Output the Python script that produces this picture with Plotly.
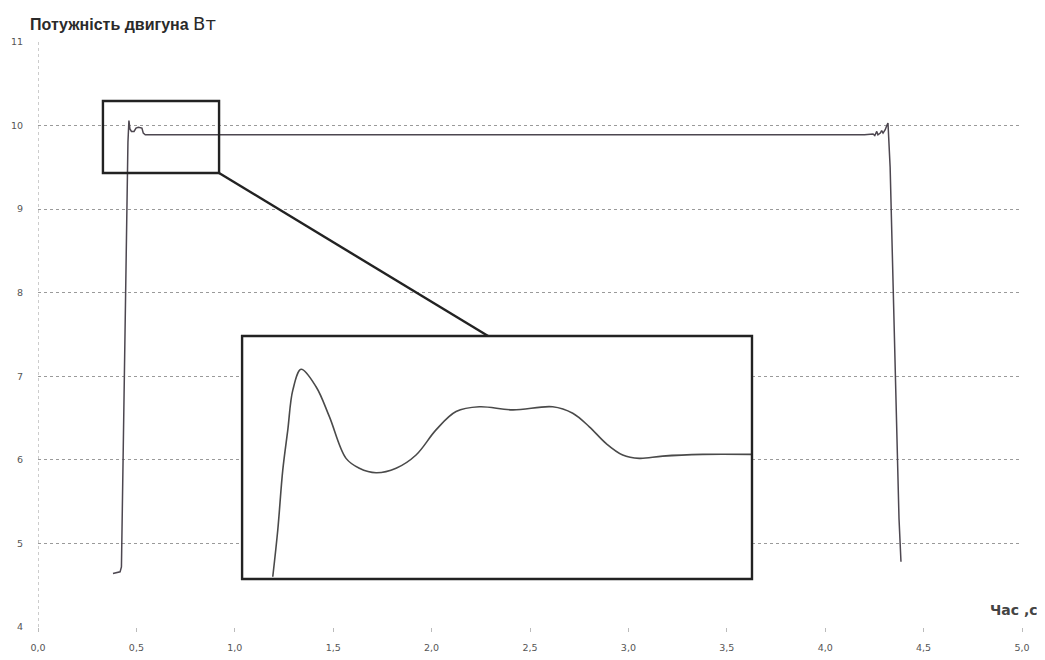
import plotly.graph_objects as go

# ---- data: main power curve (time s, power W) ----
time_s = [0.381, 0.417, 0.424, 0.430, 0.440, 0.450, 0.457, 0.462, 0.467, 0.475, 0.488,
          0.498, 0.510, 0.528, 0.535, 0.545, 1.0, 2.0, 3.0, 4.0, 4.20, 4.243, 4.252,
          4.262, 4.268, 4.280, 4.287, 4.294, 4.305, 4.313, 4.319, 4.330, 4.345,
          4.360, 4.375, 4.385]
power_w = [4.64, 4.66, 4.72, 5.6, 7.3, 8.9, 9.8, 10.06, 9.96, 9.93, 9.93,
           9.97, 9.98, 9.97, 9.91, 9.89, 9.89, 9.89, 9.89, 9.89, 9.89, 9.90, 9.88,
           9.93, 9.89, 9.91, 9.94, 9.91, 9.95, 10.0, 10.03, 9.5, 8.2,
           6.6, 5.3, 4.78]

# ---- data: magnified view of the start transient ----
inset_t = [0.3655, 0.3713, 0.3771, 0.3829, 0.3887, 0.3983, 0.4156, 0.4310, 0.4503,
           0.4657, 0.4850, 0.5082, 0.5313, 0.5544, 0.5776, 0.6045, 0.6432, 0.6894,
           0.7126, 0.7318, 0.7511, 0.7704, 0.7896, 0.8167, 0.8630, 0.9189]
inset_p = [9.440, 9.606, 9.819, 9.961, 10.102, 10.176, 10.114, 10.008, 9.860,
           9.825, 9.809, 9.825, 9.872, 9.961, 10.026, 10.043, 10.032, 10.043,
           10.020, 9.972, 9.913, 9.872, 9.860, 9.868, 9.874, 9.874]

# zoom window (data coords) and inset box (main data coords)
zoom_x = [0.330, 0.920]
zoom_y = [9.432, 10.294]
box_x = [1.037, 3.628]
box_y = [4.574, 7.482]
connector_end = [2.287, 7.482]

x_range = [0, 5]
y_range = [4, 11]
x_ticks = [0, 0.5, 1.0, 1.5, 2.0, 2.5, 3.0, 3.5, 4.0, 4.5, 5.0]
y_ticks = [4, 5, 6, 7, 8, 9, 10, 11]

def to_paper_x(v):
    return (v - x_range[0]) / (x_range[1] - x_range[0])

def to_paper_y(v):
    return (v - y_range[0]) / (y_range[1] - y_range[0])

fig = go.Figure()
fig.add_trace(go.Scatter(x=time_s, y=power_w, mode="lines",
                         line=dict(color="#4d4750", width=1.5),
                         showlegend=False, hoverinfo="skip"))
fig.add_trace(go.Scatter(x=inset_t, y=inset_p, mode="lines", line_shape="spline",
                         line=dict(color="#4a4a4a", width=1.6),
                         xaxis="x2", yaxis="y2", showlegend=False, hoverinfo="skip"))

grid_col = "#9a9a9a"
tick_font = dict(family="DejaVu Sans", size=9.5, color="#555555")
frame = dict(color="#222222", width=2.4)

fig.update_layout(
    width=1045, height=660,
    margin=dict(l=30, r=31, t=34, b=41),
    paper_bgcolor="white", plot_bgcolor="white",
    separators=", ",
    xaxis=dict(range=x_range, tickvals=x_ticks, tickformat=".1f",
               showgrid=False, zeroline=False, showline=False, automargin=False,
               ticks="outside", ticklen=4, tickcolor="#bbbbbb",
               tickfont=tick_font, ticklabelstandoff=8),
    yaxis=dict(range=y_range, tickvals=y_ticks, showgrid=True,
               gridcolor=grid_col, griddash="dot", gridwidth=1, automargin=False,
               zeroline=False, showline=False, ticks="",
               tickfont=tick_font, ticklabelstandoff=14),
    xaxis2=dict(domain=[to_paper_x(box_x[0]), to_paper_x(box_x[1])], range=zoom_x,
                anchor="y2", visible=False),
    yaxis2=dict(domain=[to_paper_y(box_y[0]), to_paper_y(box_y[1])], range=zoom_y,
                anchor="x2", visible=False),
    shapes=[
        # left axis (dotted)
        dict(type="line", xref="x", yref="y", x0=0, x1=0, y0=y_range[0], y1=y_range[1],
             line=dict(color=grid_col, width=1, dash="dot")),
        # zoom rectangle
        dict(type="rect", xref="x", yref="y", x0=zoom_x[0], x1=zoom_x[1],
             y0=zoom_y[0], y1=zoom_y[1], line=frame),
        # inset box fill (covers gridlines)
        dict(type="rect", xref="x", yref="y", x0=box_x[0], x1=box_x[1],
             y0=box_y[0], y1=box_y[1], fillcolor="white",
             line=dict(width=0), layer="below"),
        # inset box frame
        dict(type="rect", xref="x", yref="y", x0=box_x[0], x1=box_x[1],
             y0=box_y[0], y1=box_y[1], line=frame),
        # connector
        dict(type="line", xref="x", yref="y", x0=zoom_x[1], y0=zoom_y[0],
             x1=connector_end[0], y1=connector_end[1], line=frame),
    ],
    annotations=[
        dict(text="<b>Потужність двигуна</b> <span style='font-size:18px;font-family:DejaVu Sans'>Вт</span>",
             xref="paper", yref="paper", x=-0.010, y=1.0, yshift=6,
             xanchor="left", yanchor="bottom", showarrow=False,
             font=dict(family="Liberation Sans", size=16, color="#2a2a2a")),
        dict(text="<b>Час ,с</b>", xref="paper", yref="paper", x=1.018, y=0.012,
             xanchor="right", yanchor="bottom", showarrow=False,
             font=dict(family="DejaVu Sans", size=14, color="#444444")),
    ],
)

fig.write_html("out.html")
